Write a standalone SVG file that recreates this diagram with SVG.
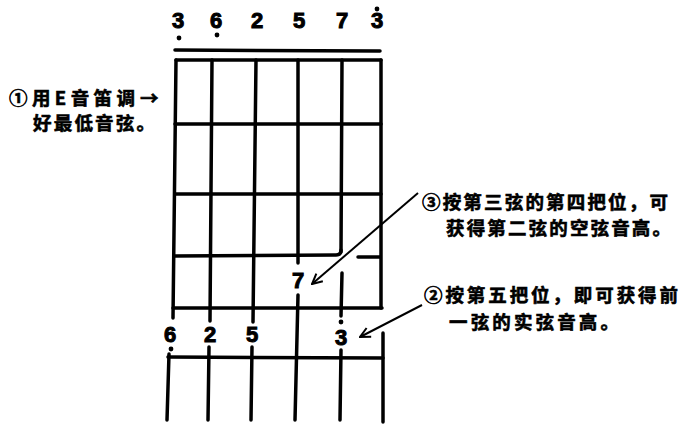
<svg xmlns="http://www.w3.org/2000/svg" width="680" height="426" viewBox="0 0 680 426">
<style>
.ln{stroke:#000;stroke-width:3.5;fill:none;stroke-linecap:round;stroke-linejoin:round}
.num{font-family:"Liberation Sans",Arial,sans-serif;font-weight:bold;font-size:22px;text-anchor:middle;fill:#000;stroke:#000;stroke-width:1}
.cn{font-family:"Noto Sans CJK SC","Noto Sans",sans-serif;font-weight:bold;font-size:18.5px;fill:#000;stroke:#000;stroke-width:0.6}
.dot{fill:#000}
.arr{stroke:#000;stroke-width:2;fill:none}
</style>
<defs>
<marker id="ah" viewBox="0 0 12 12" refX="11" refY="6" markerWidth="12" markerHeight="12" markerUnits="userSpaceOnUse" orient="auto">
<path d="M1,1 L11,6 L1,11" fill="none" stroke="#000" stroke-width="2"/>
</marker>
</defs>
<rect width="680" height="426" fill="#fff"/>

<g id="top-notes">
<text class="num" x="178" y="28">3</text>
<text class="num" x="216" y="28">6</text>
<text class="num" x="257" y="28">2</text>
<text class="num" x="299" y="28">5</text>
<text class="num" x="342" y="28">7</text>
<text class="num" x="377" y="28">3</text>
<circle class="dot" cx="179" cy="38" r="2.4"/>
<circle class="dot" cx="217" cy="35" r="2.4"/>
<circle class="dot" cx="377" cy="9" r="2.4"/>
<line class="ln" x1="175" y1="50" x2="380" y2="51" stroke-width="4"/>
</g>

<g id="fretboard">
<line class="ln" x1="176" y1="60" x2="381" y2="60"/>
<line class="ln" x1="175" y1="124" x2="381" y2="124"/>
<line class="ln" x1="175" y1="194" x2="381" y2="194"/>
<path class="ln" d="M174,256 L336,255 Q341,255 341,250"/>
<line class="ln" x1="358" y1="257" x2="380" y2="257"/>
<line class="ln" x1="173" y1="308" x2="382" y2="308"/>
<line class="ln" x1="176" y1="60" x2="173" y2="318"/>
<line class="ln" x1="212" y1="60" x2="210" y2="321"/>
<line class="ln" x1="256" y1="60" x2="253" y2="322"/>
<line class="ln" x1="298" y1="60" x2="298" y2="263"/>
<line class="ln" x1="342" y1="60" x2="341" y2="252"/>
<line class="ln" x1="342" y1="273" x2="341" y2="316"/>
<line class="ln" x1="381" y1="60" x2="381" y2="308"/>
<line class="ln" x1="298" y1="295" x2="295" y2="420"/>
</g>

<g id="fret-note-7">
<text class="num" x="298" y="288">7</text>
</g>

<g id="bottom-notes">
<text class="num" x="170" y="342">6</text>
<text class="num" x="210" y="342">2</text>
<text class="num" x="252" y="342">5</text>
<text class="num" x="341" y="345">3</text>
<circle class="dot" cx="171" cy="349" r="2.4"/>
<circle class="dot" cx="341" cy="322" r="2.4"/>
</g>

<g id="lower-board">
<line class="ln" x1="168" y1="357" x2="383" y2="358"/>
<line class="ln" x1="169" y1="354" x2="167" y2="420"/>
<line class="ln" x1="209" y1="347" x2="208" y2="420"/>
<line class="ln" x1="252" y1="347" x2="251" y2="420"/>
<line class="ln" x1="341" y1="350" x2="340" y2="420"/>
<line class="ln" x1="383" y1="333" x2="383" y2="422"/>
</g>

<g id="note-1">
<text class="cn" x="9" y="104.5" textLength="126" lengthAdjust="spacing">①用E音笛调</text>
<text class="cn" x="140" y="104.5">→</text>
<text class="cn" x="33" y="130" textLength="122" lengthAdjust="spacing">好最低音弦。</text>
</g>

<g id="note-3">
<text class="cn" x="422" y="209" textLength="246" lengthAdjust="spacing">③按第三弦的第四把位，可</text>
<text class="cn" x="446" y="235" textLength="225" lengthAdjust="spacing">获得第二弦的空弦音高。</text>
</g>

<g id="note-2">
<text class="cn" x="424" y="302" textLength="254" lengthAdjust="spacing">②按第五把位，即可获得前</text>
<text class="cn" x="449" y="329" textLength="170" lengthAdjust="spacing">一弦的实弦音高。</text>
</g>

<g id="connectors">
<line class="arr" x1="418" y1="193" x2="312" y2="284" marker-end="url(#ah)"/>
<line class="arr" x1="422" y1="305" x2="360" y2="337" marker-end="url(#ah)"/>
</g>
</svg>
